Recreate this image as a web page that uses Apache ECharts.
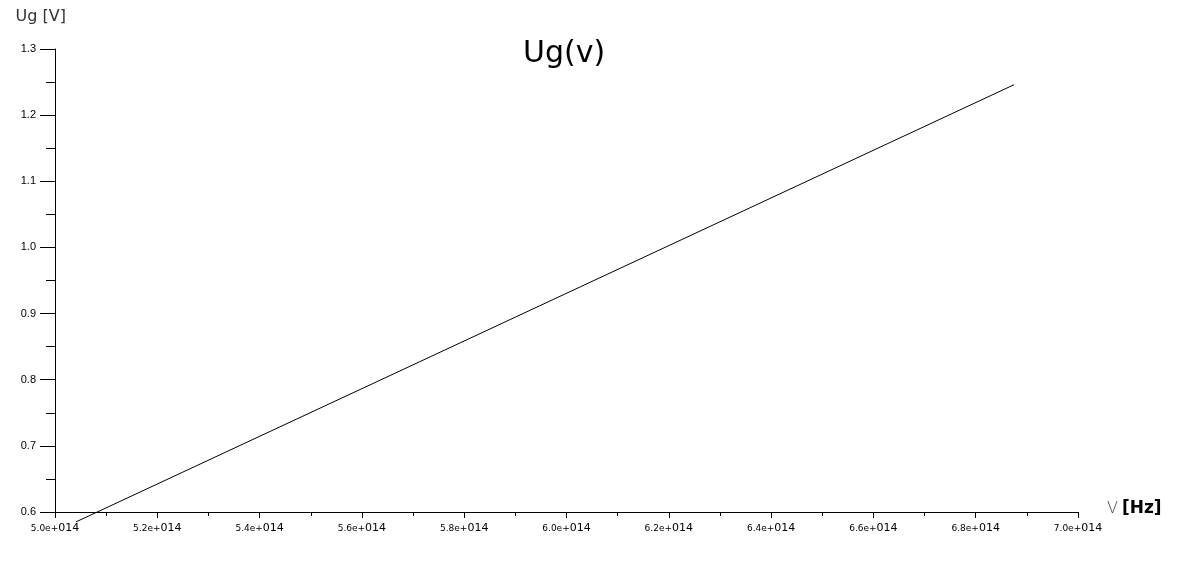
<!DOCTYPE html>
<html>
<head>
<meta charset="utf-8">
<script src="https://cdn.jsdelivr.net/npm/echarts@6/dist/echarts.min.js"></script>
<style>html,body{margin:0;padding:0;background:#fff}#c{width:1178px;height:568px}</style>
</head>
<body>
<div id="c"></div>
<script>
// data: frequency [Hz], stopping voltage Ug [V]
const freq = [5.041e14, 6.875e14];
const ug = [0.585, 1.246];
const xTicks = ['5.0', '5.2', '5.4', '5.6', '5.8', '6.0', '6.2', '6.4', '6.6', '6.8', '7.0'];
const yTicks = ['0.6', '0.7', '0.8', '0.9', '1.0', '1.1', '1.2', '1.3'];

const chart = echarts.init(document.getElementById('c'));
chart.setOption({
  animation: false,
  backgroundColor: '#fff',
  title: {
    text: 'Ug(v)', left: 518, top: 34,
    textStyle: {fontFamily: 'DejaVu Sans', fontSize: 30, fontWeight: 'normal', color: '#000'}
  },
  grid: {left: 55, right: 100, top: 49, bottom: 56, containLabel: false},
  xAxis: {
    type: 'value', min: 5.0e14, max: 7.0e14, interval: 0.2e14,
    name: '{a|V}{b|[Hz]}', nameLocation: 'end', nameGap: 29,
    nameTextStyle: {
      verticalAlign: 'middle', align: 'left', padding: [0, 0, 6, 0],
      rich: {
        a: {fontFamily: 'DejaVu Sans', fontSize: 16, fontWeight: 200, color: '#444'},
        b: {fontFamily: 'DejaVu Sans', fontSize: 17, fontWeight: 'bold', color: '#000', padding: [0, 0, 0, 4]}
      }
    },
    axisLine: {lineStyle: {color: '#000', width: 1}},
    axisTick: {show: true, inside: false, length: 6, lineStyle: {color: '#000'}},
    minorTick: {show: true, splitNumber: 2, length: 4, lineStyle: {color: '#000'}},
    splitLine: {show: false},
    axisLabel: {
      margin: 11,
      formatter: function (v) {
        const i = Math.round((v - 5.0e14) / 0.2e14);
        return '{s|' + xTicks[i] + 'e+}{l|014}';
      },
      rich: {
        s: {fontFamily: 'DejaVu Sans', fontSize: 9, color: '#000'},
        l: {fontFamily: 'DejaVu Sans', fontSize: 11, color: '#000'}
      }
    }
  },
  yAxis: {
    type: 'value', min: 0.6, max: 1.3, interval: 0.1,
    name: 'Ug [V]', nameLocation: 'end', nameGap: 24,
    nameTextStyle: {fontFamily: 'DejaVu Sans', fontSize: 16, color: '#333', align: 'right', padding: [0, -11, 0, 0]},
    axisLine: {show: true, lineStyle: {color: '#000', width: 1}},
    axisTick: {show: true, inside: false, length: 15, lineStyle: {color: '#000'}},
    minorTick: {show: true, splitNumber: 2, length: 9, lineStyle: {color: '#000'}},
    splitLine: {show: false},
    axisLabel: {
      margin: 19, fontFamily: 'Liberation Sans', fontSize: 11, color: '#000',
      formatter: function (v) { return yTicks[Math.round((v - 0.6) / 0.1)]; }
    }
  },
  series: [{
    type: 'line',
    data: freq.map((f, i) => [f, ug[i]]),
    showSymbol: false, clip: false,
    lineStyle: {color: '#000', width: 1}
  }]
});
</script>
</body>
</html>
